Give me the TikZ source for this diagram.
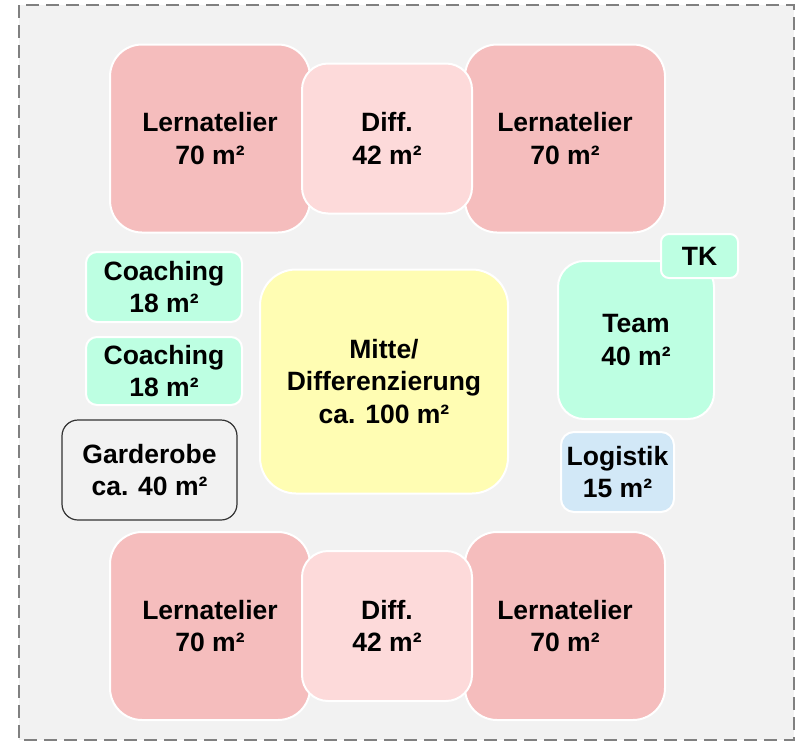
\documentclass[tikz,border=0pt]{standalone}
\usepackage{fontspec}
\setmainfont{Liberation Sans}
\definecolor{bgc}{HTML}{F2F2F2}
\definecolor{framec}{HTML}{808080}
\definecolor{lern}{HTML}{F5BDBD}
\definecolor{diffc}{HTML}{FDDADA}
\definecolor{greenc}{HTML}{BDFFE2}
\definecolor{bluec}{HTML}{D2E8F7}
\definecolor{yelc}{HTML}{FFFDB3}
\definecolor{garc}{HTML}{333333}
\tikzset{
  room/.style={draw=white, line width=2pt, align=center, inner sep=0pt,
    font=\fontsize{26.5}{32.5}\selectfont\bfseries, text=black},
  lernbox/.style={room, fill=lern, minimum width=200pt, minimum height=188pt, rounded corners=32pt},
  diffbox/.style={room, fill=diffc, minimum width=170pt, minimum height=150pt, rounded corners=26pt},
  greenbox/.style={room, fill=greenc},
}
\begin{document}
\begin{tikzpicture}[x=1pt,y=-1pt]
\useasboundingbox (0,0) rectangle (795,742);
\fill[bgc] (19,5) rectangle (794,740);
\draw[framec, line width=2.5pt, dash pattern=on 13pt off 7pt] (19,5) rectangle (794,740);
% top row
\node[lernbox] (lt1) at (210,138.5) {Lernatelier\\70 m²};
\node[lernbox] (lt2) at (565,138.5) {Lernatelier\\70 m²};
\node[diffbox] (dt) at (387,138.5) {Diff.\\42 m²};
% bottom row
\node[lernbox] (lb1) at (210,626) {Lernatelier\\70 m²};
\node[lernbox] (lb2) at (565,626) {Lernatelier\\70 m²};
\node[diffbox] (db) at (387,626) {Diff.\\42 m²};
% middle
\node[room, fill=yelc, minimum width=248pt, minimum height=224pt, rounded corners=36pt] (mitte) at (384,381.5) {Mitte/\\Differenzierung\\ca. 100 m²};
\node[greenbox, minimum width=156pt, minimum height=70pt, rounded corners=11pt] (c1) at (164,287) {Coaching\\18 m²};
\node[greenbox, minimum width=156pt, minimum height=68pt, rounded corners=11pt] (c2) at (164,371) {Coaching\\18 m²};
\node[room, draw=garc, line width=1.2pt, fill=bgc, minimum width=175pt, minimum height=100pt, rounded corners=16pt] (gar) at (149.5,470) {Garderobe\\ca. 40 m²};
\node[greenbox, minimum width=156pt, minimum height=158pt, rounded corners=26pt] (team) at (636,340) {Team\\40 m²};
\node[greenbox, minimum width=77pt, minimum height=44pt, rounded corners=8pt] (tk) at (699.5,256) {TK};
\node[room, fill=bluec, minimum width=113pt, minimum height=80pt, rounded corners=13pt] (log) at (617.5,472) {Logistik\\15 m²};
\end{tikzpicture}
\end{document}
